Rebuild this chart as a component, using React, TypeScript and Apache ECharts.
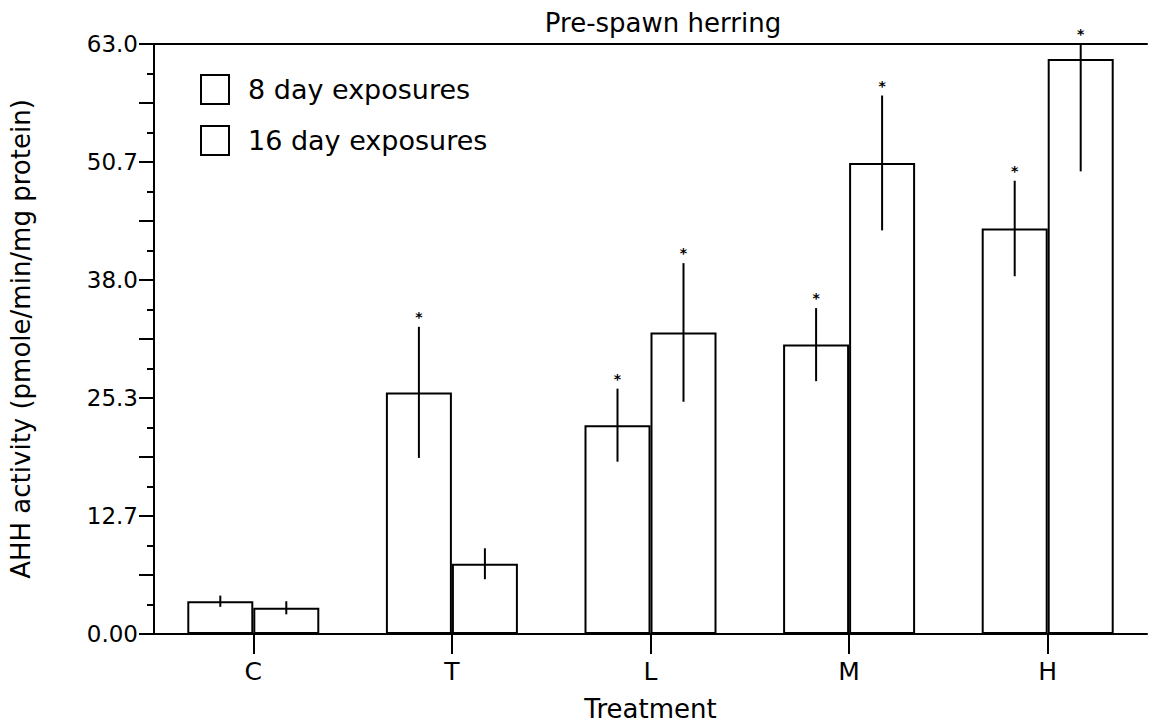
import React, { useEffect, useRef } from "react";
import * as echarts from "echarts";

const categories = ["C", "T", "L", "M", "H"];
const seriesNames = ["8 day exposures", "16 day exposures"];
const day8Mean = [3.5, 25.8, 22.3, 30.9, 43.3];
const day8Err = [0.6, 7.0, 3.9, 3.9, 5.1];
const day16Mean = [2.8, 7.5, 32.2, 50.3, 61.4];
const day16Err = [0.7, 1.65, 7.4, 7.2, 12.0];
const day8Significant = [false, true, true, true, true];
const day16Significant = [false, false, true, true, true];
const yTickLabels = ["0.00", "12.7", "25.3", "38.0", "50.7", "63.0"];
const yMax = 63;
const yStep = 6.3;

const FONT = "DejaVu Sans";
const BAR_WIDTH = 66;

export default function App() {
  const ref = useRef<HTMLDivElement | null>(null);

  useEffect(() => {
    if (!ref.current) return;
    const chart = echarts.init(ref.current, undefined, { renderer: "svg" });

    const errData: any[] = [];
    categories.forEach((_, i) => {
      errData.push([i, day8Mean[i], day8Err[i], 0, day8Significant[i] ? 1 : 0]);
      errData.push([i, day16Mean[i], day16Err[i], 1, day16Significant[i] ? 1 : 0]);
    });

    const barStyle = { color: "#ffffff", borderColor: "#000000", borderWidth: 2 };

    const option: any = {
      animation: false,
      backgroundColor: "#ffffff",
      title: {
        text: "Pre-spawn herring",
        left: 658,
        top: 5,
        textAlign: "center",
        textStyle: { fontFamily: FONT, fontSize: 26, fontWeight: "normal", color: "#000" },
      },
      legend: {
        orient: "vertical",
        left: 195,
        top: 69,
        itemWidth: 28,
        itemHeight: 29,
        itemGap: 20,
        icon: "rect",
        data: seriesNames,
        itemStyle: { color: "#ffffff", borderColor: "#000000", borderWidth: 2 },
        textStyle: { fontFamily: FONT, fontSize: 27, color: "#000", padding: [0, 0, 0, 14] },
        selectedMode: false,
      },
      grid: { left: 153, right: 2, top: 44, bottom: 92, containLabel: false },
      xAxis: [
        {
          type: "category",
          data: categories,
          name: "Treatment",
          nameLocation: "middle",
          nameGap: 62,
          nameTextStyle: { fontFamily: FONT, fontSize: 26, color: "#000" },
          axisLine: { show: true, lineStyle: { color: "#000", width: 2 } },
          axisTick: { show: true, alignWithLabel: true, length: 20, lineStyle: { color: "#000", width: 2 } },
          axisLabel: { fontFamily: FONT, fontSize: 25, color: "#000", margin: 25 },
          splitLine: { show: false },
        },
        {
          type: "category",
          data: categories,
          position: "top",
          axisLine: { show: true, onZero: false, lineStyle: { color: "#000", width: 2 } },
          axisTick: { show: false },
          axisLabel: { show: false },
          splitLine: { show: false },
        },
      ],
      yAxis: {
        type: "value",
        min: 0,
        max: yMax,
        interval: yStep,
        name: "AHH activity (pmole/min/mg protein)",
        nameLocation: "middle",
        nameGap: 120,
        nameTextStyle: { fontFamily: FONT, fontSize: 26, color: "#000" },
        axisLine: { show: true, lineStyle: { color: "#000", width: 2 } },
        axisTick: { show: true, length: 15, lineStyle: { color: "#000", width: 2 } },
        minorTick: { show: true, splitNumber: 2, length: 7, lineStyle: { color: "#000", width: 2 } },
        axisLabel: {
          fontFamily: FONT,
          fontSize: 23,
          color: "#000",
          margin: 16,
          formatter: (_v: number, idx: number) => (idx % 2 === 0 ? yTickLabels[idx / 2] ?? "" : ""),
        },
        splitLine: { show: false },
        minorSplitLine: { show: false },
      },
      series: [
        {
          name: seriesNames[0],
          type: "bar",
          data: day8Mean,
          barWidth: BAR_WIDTH,
          barGap: "0%",
          itemStyle: barStyle,
          z: 2,
        },
        {
          name: seriesNames[1],
          type: "bar",
          data: day16Mean,
          barWidth: BAR_WIDTH,
          barGap: "0%",
          itemStyle: barStyle,
          z: 2,
        },
        {
          type: "custom",
          z: 5,
          data: errData,
          encode: { x: 0, y: 1 },
          renderItem: (_params: any, api: any) => {
            const i = api.value(0);
            const mean = api.value(1);
            const err = api.value(2);
            const s = api.value(3);
            const sig = api.value(4);
            const off = s === 0 ? -BAR_WIDTH / 2 : BAR_WIDTH / 2;
            const x = api.coord([i, mean])[0] + off;
            const lo = api.coord([i, Math.max(0, mean - err)])[1];
            const hi = api.coord([i, Math.min(yMax, mean + err)])[1];
            const children: any[] = [
              {
                type: "line",
                shape: { x1: x, y1: lo, x2: x, y2: hi },
                style: { stroke: "#000", lineWidth: 2 },
              },
            ];
            if (sig) {
              children.push({
                type: "text",
                x: x,
                y: hi - 3,
                style: {
                  text: "*",
                  fontFamily: FONT,
                  fontSize: 14,
                  fontWeight: "bold",
                  fill: "#000",
                  align: "center",
                  verticalAlign: "bottom",
                },
              });
            }
            return { type: "group", children };
          },
        },
      ],
    };

    chart.setOption(option);
    return () => {
      chart.dispose();
    };
  }, []);

  return (
    <div
      ref={ref}
      style={{ position: "absolute", left: 0, top: 0, width: 1149, height: 727, background: "#fff" }}
    />
  );
}
